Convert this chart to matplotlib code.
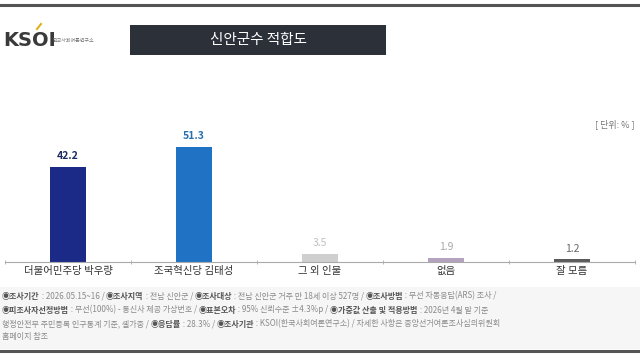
import matplotlib
matplotlib.use('Agg')
import matplotlib.pyplot as plt
from matplotlib.patches import Rectangle

plt.rcParams['font.family'] = ['Noto Sans CJK KR', 'DejaVu Sans']

categories = ['더불어민주당 박우량', '조국혁신당 김태성', '그 외 인물', '없음', '잘 모름']
values = [42.2, 51.3, 3.5, 1.9, 1.2]
bar_colors = ['#1b2a86', '#1f72c4', '#cfcfcf', '#b3a3bf', '#5a5a5a']
label_colors = ['#1b2a5e', '#2a6fae', '#c0c0c0', '#a8a8a8', '#666666']

title = '신안군수 적합도'
unit = '[ 단위: % ]'

footer = [
    [('◉조사기간', True), (' : 2026.05.15~16 / ', False), ('◉조사지역', True), (' : 전남 신안군 / ', False),
     ('◉조사대상', True), (' : 전남 신안군 거주 만 18세 이상 527명 / ', False), ('◉조사방법', True),
     (' : 무선 자동응답(ARS) 조사 /', False)],
    [('◉피조사자선정방법', True), (' : 무선(100%) - 통신사 제공 가상번호 / ', False), ('◉표본오차', True),
     (' : 95% 신뢰수준 ±4.3%p / ', False), ('◉가중값 산출 및 적용방법', True), (' : 2026년 4월 말 기준', False)],
    [('행정안전부 주민등록 인구통계 기준, 셀가중 / ', False), ('◉응답률', True), (' : 28.3% / ', False),
     ('◉조사기관', True), (' : KSOI(한국사회여론연구소) / 자세한 사항은 중앙선거여론조사심의위원회', False)],
    [('홈페이지 참조', False)],
]

W, H = 640, 360
fig = plt.figure(figsize=(6.4, 3.6), dpi=100)
fig.patch.set_facecolor('white')

def fx(px):
    return px / W

def fy(py):
    return 1 - py / H

# frame lines and footer background
fig.patches.append(Rectangle((0, fy(349)), 1, fy(287) - fy(349), transform=fig.transFigure,
                             facecolor='#f6f6f6', edgecolor='none', zorder=0))
fig.add_artist(plt.Line2D([0, 1], [fy(5), fy(5)], color='#555555', lw=2.2))
fig.add_artist(plt.Line2D([0, 1], [fy(351), fy(351)], color='#555555', lw=2.2))

# logo
fig.text(fx(3), fy(40), 'KSOI', fontsize=14, fontweight='bold', color='#3a3a3a',
         va='center', ha='left', family='DejaVu Sans')
fig.add_artist(plt.Line2D([fx(37), fx(41)], [fy(29), fy(24)], color='#e0b020', lw=1.5))
fig.text(fx(53), fy(40), '한국사회여론연구소', fontsize=3.6, color='#777777', va='center', ha='left')

# title box
fig.patches.append(Rectangle((fx(130), fy(55)), fx(386) - fx(130), fy(25) - fy(55),
                             transform=fig.transFigure, facecolor='#2b3039', edgecolor='none'))
fig.text(fx(258), fy(40), title, fontsize=10.5, color='white', ha='center', va='center')

fig.text(fx(635), fy(124), unit, fontsize=6.5, color='#777777', ha='right', va='center')

# bars
ax = fig.add_axes([fx(5), 1 - 262 / H, fx(630), (262 - 100) / H])
x = list(range(len(categories)))
ax.bar(x, values, width=0.29, color=bar_colors, zorder=2)
for i, v in enumerate(values):
    bold = i < 2
    ax.text(i, v + 2.5, f'{v:.1f}', ha='center', va='bottom', fontsize=7.5,
            fontweight='bold' if bold else 'normal', color=label_colors[i])
ax.set_xlim(-0.5, 4.5)
ax.set_ylim(0, 72)
ax.set_xticks(x)
ax.set_xticklabels(categories, fontsize=7.5, color='#333333')
ax.tick_params(axis='x', which='major', length=0, pad=3)
ax.set_xticks([i - 0.5 for i in range(len(categories) + 1)], minor=True)
ax.tick_params(axis='x', which='minor', length=3, color='#aaaaaa', direction='inout')
ax.set_yticks([])
for s in ['top', 'left', 'right']:
    ax.spines[s].set_visible(False)
ax.spines['bottom'].set_color('#aaaaaa')
ax.spines['bottom'].set_linewidth(0.8)
ax.set_facecolor('none')

# footer text, drawn piece by piece
renderer = fig.canvas.get_renderer()
line_y = [296, 310, 324, 337]
for segs, py in zip(footer, line_y):
    cx = 2
    for txt, bold in segs:
        t = fig.text(fx(cx), fy(py), txt, fontsize=5.8, va='center', ha='left',
                     fontweight='bold' if bold else 'normal',
                     color='#555555' if bold else '#8a8a8a')
        bb = t.get_window_extent(renderer=renderer)
        cx += bb.width

fig.savefig('out.png', dpi=100)
